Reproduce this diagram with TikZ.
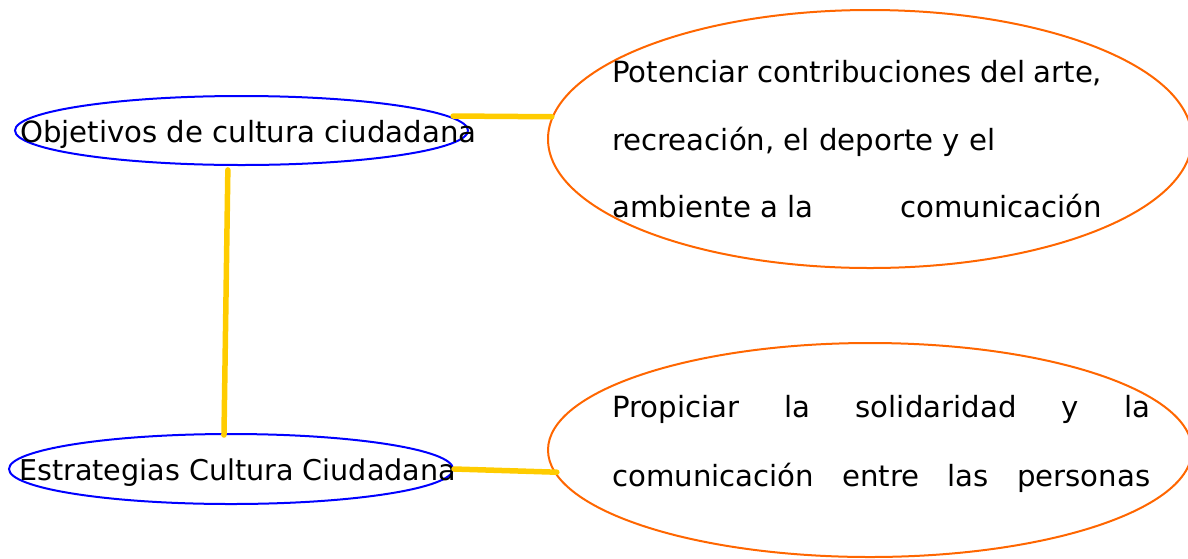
\documentclass[tikz,border=0pt]{standalone}
\usepackage{fontspec}
\setmainfont{DejaVu Sans}
\usetikzlibrary{shapes.geometric}
\definecolor{ellblue}{RGB}{0,0,255}
\definecolor{ellorange}{RGB}{255,102,0}
\definecolor{linkyellow}{RGB}{255,204,0}
\begin{document}
\begin{tikzpicture}[x=1pt,y=-1pt,
  concept/.style={ellipse, draw=ellblue, line width=2pt, inner sep=0pt},
  idea/.style={ellipse, draw=ellorange, line width=2pt, inner sep=0pt},
  txt/.style={anchor=base west, inner sep=0pt, font=\fontsize{29.2}{34}\selectfont},
  link/.style={draw=linkyellow, line width=5.5pt, line cap=round}]
\useasboundingbox (0,0) rectangle (1188,558);
\clip (0,0) rectangle (1188,558);
\node[concept, minimum width=453pt, minimum height=69pt] (obj) at (241.5,130.5) {};
\node[concept, minimum width=444pt, minimum height=70pt] (est) at (231,469) {};
\node[idea, minimum width=644pt, minimum height=258pt] (pot) at (870,139) {};
\node[idea, minimum width=644pt, minimum height=214pt] (pro) at (870,450) {};
\node[txt] (objt) at (20,142) {Objetivos de cultura ciudadana};
\node[txt, font=\fontsize{28.6}{34}\selectfont] (estt) at (19,480) {Estrategias Cultura Ciudadana};
\node[txt] (pot1) at (612,82) {\makebox[490pt][s]{Potenciar contribuciones del arte,}};
\node[txt] (pot2) at (612,150) {recreación, el deporte y el};
\node[txt] (pot3) at (612,217) {\makebox[490pt][l]{ambiente a la\hfill comunicación}};
\node[txt] (pro1) at (612,417) {\makebox[538pt][s]{Propiciar la solidaridad y la}};
\node[txt] (pro2) at (612,486) {\makebox[538pt][s]{comunicación entre las personas}};
\draw[link, shorten <=4pt] (obj.4) -- (pot.176);
\draw[link, shorten <=4pt, shorten >=-2pt] (obj.-111.4) -- (est.101.3);
\draw[link, shorten >=-3pt] (est.0) -- (pro.184);
\end{tikzpicture}
\end{document}
